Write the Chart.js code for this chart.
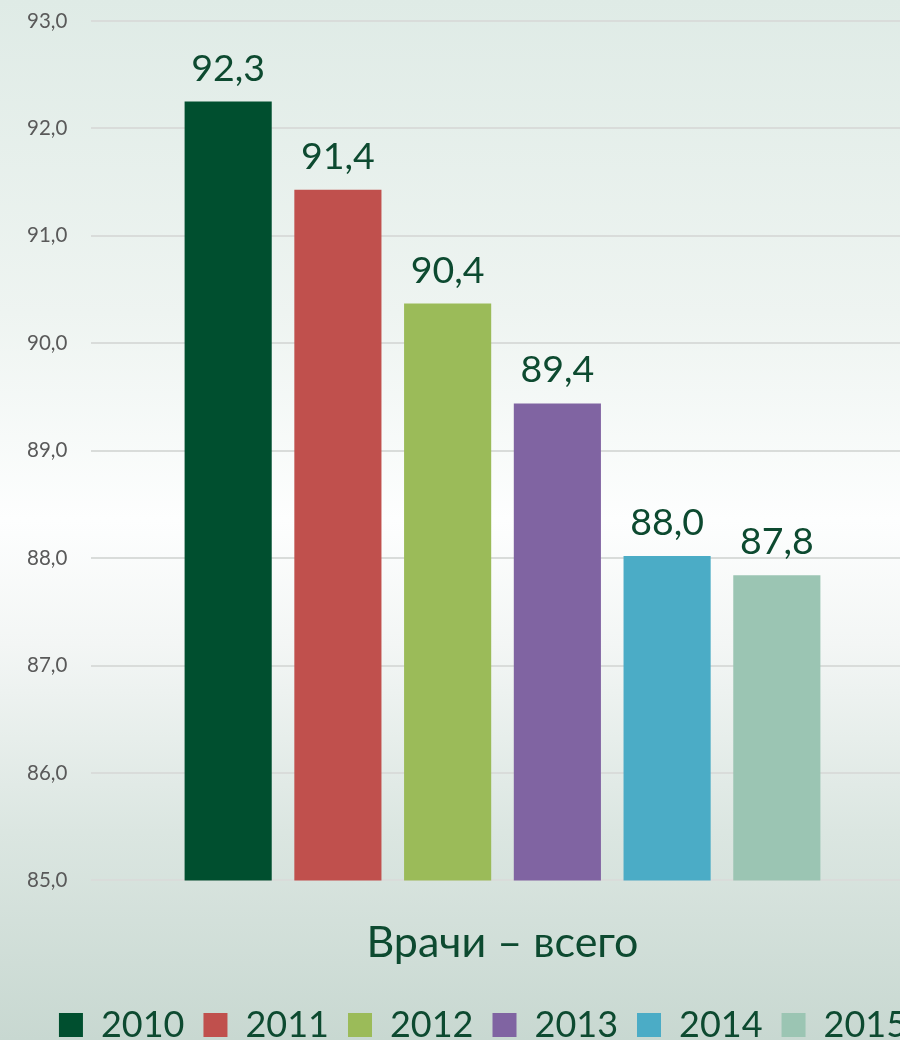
<!DOCTYPE html>
<html>
<head>
<meta charset="utf-8">
<script src="https://cdn.jsdelivr.net/npm/chart.js@4"></script>
<style>
  html, body { margin: 0; padding: 0; overflow: hidden; }
  body {
    width: 900px; height: 1040px;
    background: linear-gradient(to bottom, #dfebe6 0%, #eef4f1 30%, #fdfefe 50%, #f3f6f5 62%, #dbe6e1 80%, #c8d8d1 100%);
  }
  #wrap { width: 1020px; height: 1053px; }
</style>
</head>
<body>
<div id="wrap"><canvas id="myChart" width="1020" height="1053"></canvas></div>
<script>
let categories = ['Врачи – всего'];
let years = ['2010', '2011', '2012', '2013', '2014', '2015'];
let values = [92.25, 91.43, 90.37, 89.44, 88.02, 87.84];
let colors = ['#004f2f', '#c0504d', '#9bbb59', '#8064a2', '#4bacc6', '#9bc5b3'];
let yMin = 85;
let yMax = 93;

let textGreen = '#0d4a30';
let fontName = 'Lato, "Open Sans", sans-serif';

let datasets = years.map((y, i) => ({
    label: y,
    data: [values[i]],
    backgroundColor: colors[i],
    borderWidth: 0,
    categoryPercentage: 0.8,
    barPercentage: 0.794
}));

// value labels above the bars
const barLabels = {
    id: 'barLabels',
    afterDatasetsDraw(chart) {
        const ctx = chart.ctx;
        ctx.save();
        ctx.fillStyle = textGreen;
        ctx.font = '37.5px ' + fontName;
        ctx.textAlign = 'center';
        ctx.textBaseline = 'alphabetic';
        chart.data.datasets.forEach((ds, i) => {
            const meta = chart.getDatasetMeta(i);
            meta.data.forEach((bar, j) => {
                const txt = ds.data[j].toFixed(1).replace('.', ',');
                ctx.fillText(txt, bar.x, bar.y - 21);
            });
        });
        ctx.restore();
    }
};

// nudge the legend a bit to the right, like the original
const legendShift = {
    id: 'legendShift',
    afterLayout(chart) {
        if (chart.legend) {
            chart.legend.left += 22;
            chart.legend.right += 22;
        }
    }
};

const ctx = document.getElementById('myChart');
let myChart = new Chart(ctx, {
    type: 'bar',
    data: { labels: categories, datasets: datasets },
    options: {
        responsive: false,
        animation: false,
        layout: { padding: { top: 21, right: 106, left: 8, bottom: 0 } },
        plugins: {
            legend: {
                position: 'bottom',
                labels: {
                    boxWidth: 24,
                    boxHeight: 24,
                    padding: 19,
                    color: textGreen,
                    font: { family: fontName, size: 36 }
                }
            },
            tooltip: { enabled: false }
        },
        scales: {
            x: {
                grid: { display: false },
                border: { display: false },
                ticks: {
                    color: textGreen,
                    padding: 29,
                    font: { family: fontName, size: 43 }
                },
                afterFit(scale) { scale.height -= 10; }
            },
            y: {
                min: yMin,
                max: yMax,
                grid: { color: '#d9dcda', lineWidth: 2, drawTicks: false },
                border: { display: false },
                ticks: {
                    stepSize: 1,
                    mirror: true,
                    padding: -64,
                    color: '#595959',
                    font: { family: fontName, size: 20.5 },
                    callback: v => v.toFixed(1).replace('.', ',')
                },
                afterFit(scale) { scale.width = 83; }
            }
        }
    },
    plugins: [barLabels, legendShift]
});
</script>
</body>
</html>
